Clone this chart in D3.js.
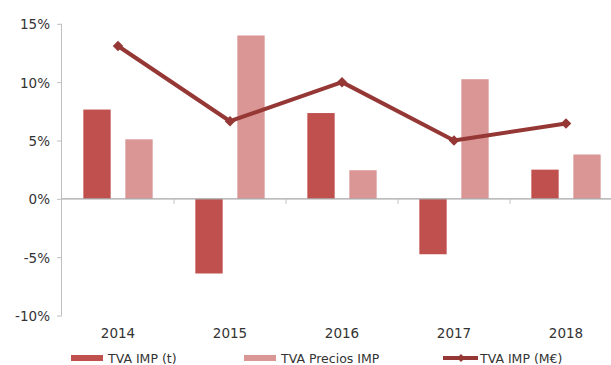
<!DOCTYPE html>
<html>
<head>
<meta charset="utf-8">
<script src="https://cdn.jsdelivr.net/npm/d3@7"></script>
<style>
  html, body { margin: 0; padding: 0; background: #fff; }
  svg { display: block; }
  text { font-family: "DejaVu Sans", Verdana, sans-serif; fill: #333; }
</style>
</head>
<body>
<svg id="chart" width="611" height="365"></svg>
<script>
// Annual variation rates (%)
const years = ["2014", "2015", "2016", "2017", "2018"];
const tvaImpT = [7.65, -6.4, 7.35, -4.75, 2.5];
const tvaPreciosImp = [5.1, 14.0, 2.45, 10.25, 3.8];
const tvaImpMEur = [13.1, 6.65, 10.0, 5.0, 6.45];
const yTicks = [-10, -5, 0, 5, 10, 15];

const seriesNames = ["TVA IMP (t)", "TVA Precios IMP", "TVA IMP (M€)"];
const barColors = ["#c0504d", "#d99694"];
const lineColor = "#953735";

const svg = d3.select("#chart");

const x = d3.scaleBand().domain(years).range([62, 622]).paddingInner(0).paddingOuter(0);
const y = d3.scaleLinear().domain([-10, 15]).range([315.5, 23.8]);

const bandW = x.bandwidth();
const barW = bandW * 0.244;
const barGap = bandW * 0.131;
const barOffset = (bandW - 2 * barW - barGap) / 2;

const barSeries = [tvaImpT, tvaPreciosImp];

// bars
barSeries.forEach((vals, si) => {
  svg.append("g")
    .selectAll("rect")
    .data(years.map((yr, i) => ({ yr, v: vals[i] })))
    .join("rect")
    .attr("x", d => x(d.yr) + barOffset + si * (barW + barGap))
    .attr("y", d => y(Math.max(0, d.v)))
    .attr("width", barW)
    .attr("height", d => Math.abs(y(d.v) - y(0)))
    .attr("fill", barColors[si]);
});

// y axis
const yAxis = d3.axisLeft(y).tickValues(yTicks).tickSize(5).tickPadding(7)
  .tickFormat(d => d + "%");
const gy = svg.append("g").attr("transform", "translate(62,0)").call(yAxis);
gy.select(".domain").attr("stroke", "#bfbfbf").attr("d", `M-0.5,${y(15)}V${y(-10)}`);
gy.selectAll(".tick line").attr("stroke", "#bfbfbf");
gy.selectAll(".tick text").style("font-size", "13.5px").attr("fill", "#333")
  .attr("dy", "0.36em");

// zero line with category separators
const gx = svg.append("g").attr("transform", `translate(0,${y(0)})`);
gx.append("line").attr("x1", 62).attr("x2", 622).attr("stroke", "#a6a6a6").attr("stroke-width", 1.2);
gx.selectAll("line.sep")
  .data(years.slice(1))
  .join("line")
  .attr("class", "sep")
  .attr("x1", d => x(d)).attr("x2", d => x(d))
  .attr("y1", 0).attr("y2", 5)
  .attr("stroke", "#bfbfbf");

// category labels
svg.append("g").selectAll("text")
  .data(years)
  .join("text")
  .attr("x", d => x(d) + bandW / 2)
  .attr("y", 338)
  .attr("text-anchor", "middle")
  .style("font-size", "13.5px")
  .text(d => d);

// line series
const pts = years.map((yr, i) => [x(yr) + bandW / 2, y(tvaImpMEur[i])]);
svg.append("path")
  .attr("d", d3.line()(pts))
  .attr("fill", "none")
  .attr("stroke", lineColor)
  .attr("stroke-width", 4)
  .attr("stroke-linejoin", "round");

const diamond = d3.symbol().type(d3.symbolDiamond2).size(70);
svg.append("g").selectAll("path")
  .data(pts)
  .join("path")
  .attr("transform", d => `translate(${d[0]},${d[1]})`)
  .attr("d", diamond)
  .attr("fill", lineColor);

// legend
const lg = svg.append("g");
const ly = 358;
const legendX = [71, 244, 443];
[0, 1].forEach(i => {
  lg.append("rect").attr("x", legendX[i]).attr("y", ly - 3).attr("width", 32).attr("height", 6)
    .attr("fill", barColors[i]);
  lg.append("text").attr("x", legendX[i] + 37).attr("y", ly).attr("dy", "0.36em")
    .style("font-size", "12.5px").text(seriesNames[i]);
});
lg.append("line").attr("x1", legendX[2]).attr("x2", legendX[2] + 35).attr("y1", ly).attr("y2", ly)
  .attr("stroke", lineColor).attr("stroke-width", 4);
lg.append("path").attr("transform", `translate(${legendX[2] + 18},${ly})`)
  .attr("d", d3.symbol().type(d3.symbolDiamond2).size(40)).attr("fill", lineColor);
lg.append("text").attr("x", legendX[2] + 37).attr("y", ly).attr("dy", "0.36em")
  .style("font-size", "12.5px").text(seriesNames[2]);
</script>
</body>
</html>
